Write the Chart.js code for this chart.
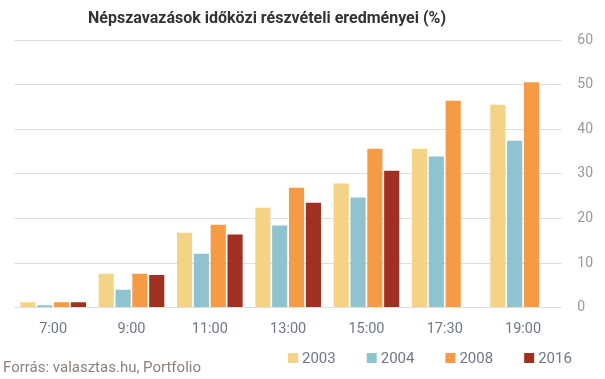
<!DOCTYPE html>
<html>
<head>
<meta charset="utf-8">
<script src="https://cdn.jsdelivr.net/npm/chart.js@4"></script>
<style>
  html, body { margin: 0; padding: 0; background: #fff; }
  #wrap { position: relative; width: 605px; height: 379px; }
  #title {
    position: absolute; left: 0; top: 8px; width: 534px; text-align: center;
    font: bold 16px Roboto, sans-serif; color: #333;
  }
  #source {
    position: absolute; left: 3px; top: 358px;
    font: 15px Roboto, sans-serif; color: #8b827b;
  }
</style>
</head>
<body>
<div id="wrap">
  <canvas id="chart" width="605" height="379"></canvas>
  <div id="title">Népszavazások időközi részvételi eredményei (%)</div>
  <div id="source">Forrás: valasztas.hu, Portfolio</div>
</div>
<script>
// voting turnout by time of day, percent
const times = ['7:00', '9:00', '11:00', '13:00', '15:00', '17:30', '19:00'];
const turnout2003 = [1.2, 7.6, 16.8, 22.4, 27.8, 35.6, 45.5];
const turnout2004 = [0.5, 4.0, 12.1, 18.4, 24.7, 33.9, 37.4];
const turnout2008 = [1.2, 7.6, 18.6, 26.9, 35.6, 46.4, 50.5];
const turnout2016 = [1.2, 7.3, 16.4, 23.5, 30.7, null, null];
const yTicks = [0, 10, 20, 30, 40, 50, 60];

const colors = ['#f4d386', '#8fc4ce', '#f59b45', '#a03022'];

// legend along the bottom right, next to the source line
const bottomLegend = {
    id: 'bottomLegend',
    afterDraw(chart) {
        const c = chart.ctx;
        c.save();
        c.font = '15px Roboto';
        c.textBaseline = 'middle';
        let x = 288;
        const y = 358;
        chart.data.datasets.forEach(ds => {
            c.fillStyle = ds.backgroundColor;
            c.fillRect(x, y - 5, 10, 10);
            c.fillStyle = '#6f7887';
            c.fillText(ds.label, x + 14, y + 1);
            x += 14 + c.measureText(ds.label).width + 31;
        });
        c.restore();
    }
};

document.addEventListener('DOMContentLoaded', function() {
    const ctx = document.getElementById('chart').getContext('2d');
    new Chart(ctx, {
        type: 'bar',
        data: {
            labels: times,
            datasets: [
                { label: '2003', data: turnout2003, backgroundColor: colors[0] },
                { label: '2004', data: turnout2004, backgroundColor: colors[1] },
                { label: '2008', data: turnout2008, backgroundColor: colors[2] },
                { label: '2016', data: turnout2016, backgroundColor: colors[3] }
            ]
        },
        plugins: [bottomLegend],
        options: {
            responsive: false,
            animation: false,
            barPercentage: 0.9,
            categoryPercentage: 0.86,
            layout: { padding: { left: 14, right: -3, top: 40, bottom: 36 } },
            plugins: {
                legend: { display: false },
                tooltip: { enabled: false }
            },
            scales: {
                x: {
                    grid: { display: false },
                    border: { display: false },
                    ticks: {
                        color: '#6f7887',
                        font: { family: 'Roboto', size: 14.5 },
                        padding: 5
                    }
                },
                y: {
                    position: 'right',
                    min: 0,
                    max: 60,
                    afterBuildTicks: axis => { axis.ticks = yTicks.map(v => ({ value: v })); },
                    grid: { color: '#dedede', drawTicks: false },
                    border: { display: false },
                    ticks: {
                        color: '#999',
                        font: { family: 'Roboto', size: 14 },
                        padding: 15
                    }
                }
            }
        }
    });
});
</script>
</body>
</html>
